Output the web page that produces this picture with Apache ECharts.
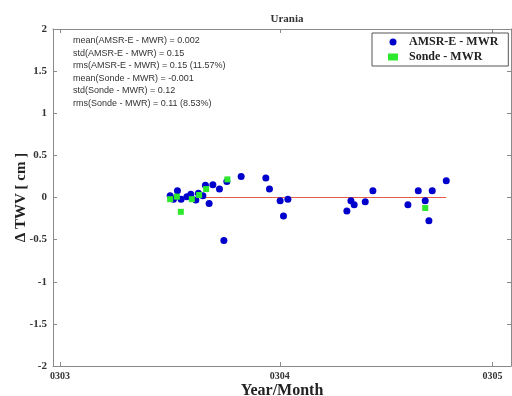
<!DOCTYPE html>
<html>
<head>
<meta charset="utf-8">
<script src="https://cdn.jsdelivr.net/npm/echarts@6/dist/echarts.min.js"></script>
<style>
  html, body { margin: 0; padding: 0; background: #fff; }
  #chart { width: 512px; height: 396px; }
</style>
</head>
<body>
<div id="chart"></div>
<script>
// Days counted from 1 March 2003; values are TWV differences in cm.
var amsrDays = [15.52, 15.99, 16.55, 17.07, 17.88, 18.44, 19.15, 19.51, 20.14, 20.50,
                21.02, 21.55, 22.48, 23.10, 23.52, 25.54, 29.02, 29.53, 31.04, 31.51,
                32.13, 40.45, 41.02, 41.48, 43.04, 44.12, 49.06, 50.52, 51.50, 52.02,
                52.49, 54.47];
var amsrDiff = [0.02, -0.02, 0.08, -0.02, 0.01, 0.04, -0.03, 0.05, 0.02, 0.145,
                -0.07, 0.15, 0.10, -0.51, 0.19, 0.25, 0.23, 0.10, -0.04, -0.22,
                -0.02, -0.16, -0.04, -0.085, -0.05, 0.08, -0.085, 0.08, -0.04, -0.275,
                0.08, 0.20];
var sondeDays = [15.52, 16.47, 17.03, 18.58, 19.61, 20.60, 23.60, 51.50];
var sondeDiff = [-0.02, 0.01, -0.17, -0.02, 0.03, 0.10, 0.215, -0.125];

// Month ticks (day offset) and their labels
var monthTicks = [0, 31, 61];
var monthLabels = ['0303', '0304', '0305'];

var statLines = [
  'mean(AMSR-E - MWR) = 0.002',
  'std(AMSR-E - MWR) = 0.15',
  'rms(AMSR-E - MWR) = 0.15 (11.57%)',
  'mean(Sonde - MWR) = -0.001',
  'std(Sonde - MWR) = 0.12',
  'rms(Sonde - MWR) = 0.11 (8.53%)'
];

function pairs(xs, ys) {
  return xs.map(function (x, i) { return [x, ys[i]]; });
}

var allDays = amsrDays.concat(sondeDays);
var zeroLine = [[Math.min.apply(null, allDays), 0], [Math.max.apply(null, allDays), 0]];

var serif = 'Liberation Serif';
var frame = '#8a8a8a';

function xAxisBase(pos, showLabels) {
  return {
    type: 'value', position: pos, min: -1, max: 63.6,
    axisLine: { show: true, onZero: false, lineStyle: { color: frame, width: 1 } },
    axisTick: { show: true, inside: true, length: 4, customValues: monthTicks, lineStyle: { color: frame } },
    axisLabel: {
      show: showLabels, customValues: monthTicks, margin: 5,
      formatter: function (v) { return monthLabels[monthTicks.indexOf(v)] || ''; },
      fontFamily: serif, fontWeight: 'bold', fontSize: 10, color: '#333'
    },
    splitLine: { show: false }
  };
}
function yAxisBase(pos, showLabels) {
  return {
    type: 'value', position: pos, min: -2, max: 2, interval: 0.5,
    axisLine: { show: true, onZero: false, lineStyle: { color: frame, width: 1 } },
    axisTick: { show: true, inside: true, length: 4, lineStyle: { color: frame } },
    axisLabel: { show: showLabels, margin: 6, fontFamily: serif, fontWeight: 'bold', fontSize: 11, color: '#333' },
    splitLine: { show: false }
  };
}

var xMain = xAxisBase('bottom', true);
xMain.name = 'Year/Month';
xMain.nameLocation = 'middle';
xMain.nameGap = 17;
xMain.nameMoveOverlap = false;
xMain.nameTextStyle = { fontFamily: serif, fontWeight: 'bold', fontSize: 16, color: '#222', verticalAlign: 'top' };

var yMain = yAxisBase('left', true);
yMain.name = '\u0394 TWV [ cm ]';
yMain.nameLocation = 'middle';
yMain.nameGap = 24;
yMain.nameRotate = 90;
yMain.nameMoveOverlap = false;
yMain.nameTextStyle = { fontFamily: serif, fontWeight: 'bold', fontSize: 15, color: '#222' };

var chart = echarts.init(document.getElementById('chart'), null, { renderer: 'canvas' });
chart.setOption({
  backgroundColor: '#fff',
  animation: false,
  title: {
    text: 'Urania', left: 282, top: 9, textAlign: 'center',
    textStyle: { fontFamily: serif, fontWeight: 'bold', fontSize: 11, color: '#333' }
  },
  grid: { left: 53, right: 1, top: 29, bottom: 30, outerBoundsMode: 'none', containLabel: false },
  xAxis: [xMain, xAxisBase('top', false)],
  yAxis: [yMain, yAxisBase('right', false)],
  legend: {
    orient: 'vertical', left: 372, top: 33,
    padding: [3, 10, 3, 16], itemGap: 3,
    borderColor: '#555', borderWidth: 1, backgroundColor: '#fff',
    itemWidth: 10, itemHeight: 7,
    textStyle: { fontFamily: serif, fontWeight: 'bold', fontSize: 12, color: '#222', padding: [0, 0, 0, 6] },
    data: [
      { name: 'AMSR-E - MWR', icon: 'circle' },
      { name: 'Sonde - MWR', icon: 'rect' }
    ]
  },
  graphic: statLines.map(function (t, i) {
    return {
      type: 'text', left: 73, top: 36 + i * 12.6,
      style: { text: t, fontFamily: 'Liberation Sans', fontSize: 9, fill: '#333' }
    };
  }),
  series: [
    {
      name: 'zero', type: 'line', data: zeroLine, symbol: 'none', silent: true, z: 1,
      color: '#e85a4a',
      lineStyle: { color: '#e85a4a', width: 1, opacity: 1, type: 'solid' },
      emphasis: { disabled: true }
    },
    {
      name: 'AMSR-E - MWR', type: 'scatter', data: pairs(amsrDays, amsrDiff),
      symbol: 'circle', symbolSize: 7, z: 3,
      itemStyle: { color: '#0000cc', opacity: 1 }
    },
    {
      name: 'Sonde - MWR', type: 'scatter', data: pairs(sondeDays, sondeDiff),
      symbol: 'rect', symbolSize: 6, z: 4,
      itemStyle: { color: '#2ee82e', opacity: 1 }
    }
  ]
});
</script>
</body>
</html>
